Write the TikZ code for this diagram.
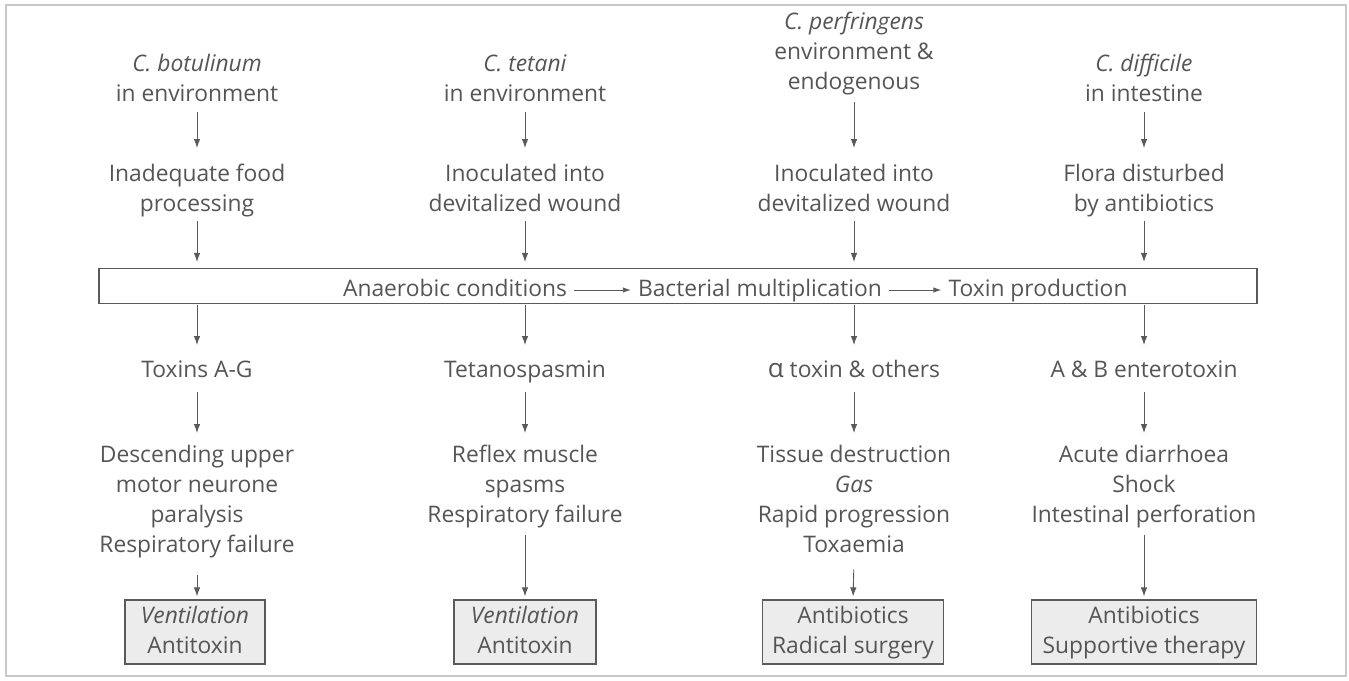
\documentclass[tikz,border=0pt]{standalone}
\usepackage{fontspec}
\setmainfont{Open Sans}
\usetikzlibrary{arrows.meta}
\definecolor{ink}{HTML}{555555}
\definecolor{rule}{HTML}{5A5A5A}
\definecolor{boxfill}{HTML}{ECECEC}
\definecolor{framegray}{HTML}{C8C8C8}
\begin{document}
\begin{tikzpicture}[x=1pt,y=-1pt,
  lbl/.style={align=center,text=ink,inner sep=0pt,anchor=north,
    font=\fontsize{22.8}{30}\selectfont},
  treat/.style={lbl,anchor=center,draw=rule,fill=boxfill,line width=1.2pt,
    minimum height=64pt,inner xsep=7pt},
  flow/.style={draw=rule,line width=0.9pt,-{Latex[length=9pt,width=6.5pt]}},
  inline/.style={draw=rule,line width=0.9pt,-{Latex[length=8pt,width=5.5pt]},
    shorten <=7pt,shorten >=7pt},
]
\useasboundingbox (0,0) rectangle (1349,680);
\draw[framegray,line width=1.4pt] (6,5) rectangle (1346,676);

% organisms and their sources
\node[lbl] (t1) at (197,50) {\strut\textit{C. botulinum}\\in environment\strut};
\node[lbl] (t2) at (525,50) {\strut\textit{C. tetani}\\in environment\strut};
\node[lbl] (t3) at (854,8) {\strut\textit{C. perfringens}\\environment \&\\endogenous\strut};
\node[lbl] (t4) at (1144,50) {\strut\textit{C. difficile}\\in intestine\strut};

% predisposing events
\node[lbl] (s1) at (197,160) {\strut Inadequate food\\processing\strut};
\node[lbl] (s2) at (525,160) {\strut Inoculated into\\devitalized wound\strut};
\node[lbl] (s3) at (854,160) {\strut Inoculated into\\devitalized wound\strut};
\node[lbl] (s4) at (1144,160) {\strut Flora disturbed\\by antibiotics\strut};

% common pathway
\node[draw=rule,line width=1.1pt,minimum width=1158pt,minimum height=35pt,
  inner sep=0pt] (mid) at (678,286) {};
\node[lbl,anchor=base] (m1) at (455,296) {\strut Anaerobic conditions};
\node[lbl,anchor=base] (m2) at (760,296) {\strut Bacterial multiplication};
\node[lbl,anchor=base] (m3) at (1038,296) {\strut Toxin production};
\draw[inline] (m1.east) -- (m2.west);
\draw[inline] (m2.east) -- (m3.west);

% toxins
\node[lbl] (x1) at (197,356) {\strut Toxins A-G\strut};
\node[lbl] (x2) at (525,356) {\strut Tetanospasmin\strut};
\node[lbl] (x3) at (854,356) {\strut{\fontsize{26}{30}\selectfont α} toxin \& others\strut};
\node[lbl] (x4) at (1144,356) {\strut A \& B enterotoxin\strut};

% clinical effects
\node[lbl] (e1) at (197,441) {\strut Descending upper\\motor neurone\\paralysis\\Respiratory failure\strut};
\node[lbl] (e2) at (525,441) {\strut Reflex muscle\\spasms\\Respiratory failure\strut};
\node[lbl] (e3) at (854,441) {\strut Tissue destruction\\\textit{Gas}\\Rapid progression\\Toxaemia\strut};
\node[lbl] (e4) at (1144,441) {\strut Acute diarrhoea\\Shock\\Intestinal perforation\strut};

% treatment
\node[treat,minimum width=140pt] (b1) at (195,632) {\strut\textit{Ventilation}\\Antitoxin\strut};
\node[treat,minimum width=142pt] (b2) at (525,632) {\strut\textit{Ventilation}\\Antitoxin\strut};
\node[treat,minimum width=181pt] (b3) at (853,632) {\strut Antibiotics\\Radical surgery\strut};
\node[treat,minimum width=225pt] (b4) at (1144,632) {\strut Antibiotics\\Supportive therapy\strut};

% connectors
\foreach \i in {1,2,4}{
  \draw[flow,shorten <=2pt,shorten >=12pt] (t\i.south) -- (s\i.north);
}
\draw[flow,shorten <=4pt,shorten >=12pt] (t3.south) -- (s3.north);
\foreach \i in {1,...,4}{
  \draw[flow,shorten <=1pt,shorten >=6pt] (s\i.south) -- (s\i.south |- mid.north);
  \draw[flow,shorten <=1pt,shorten >=11pt] (x\i.north |- mid.south) -- (x\i.north);
  \draw[flow,shorten <=6pt,shorten >=8pt] (x\i.south) -- (e\i.north);
}
\draw[flow,shorten <=14pt,shorten >=3pt] (e1.south) -- (e1.south |- b1.north);
\draw[flow,shorten <=4pt,shorten >=3pt] (e2.south) -- (b2.north);
\draw[flow,shorten <=8pt,shorten >=3pt] (e3.south) -- (b3.north);
\draw[flow,shorten <=4pt,shorten >=3pt] (e4.south) -- (b4.north);
\end{tikzpicture}
\end{document}
